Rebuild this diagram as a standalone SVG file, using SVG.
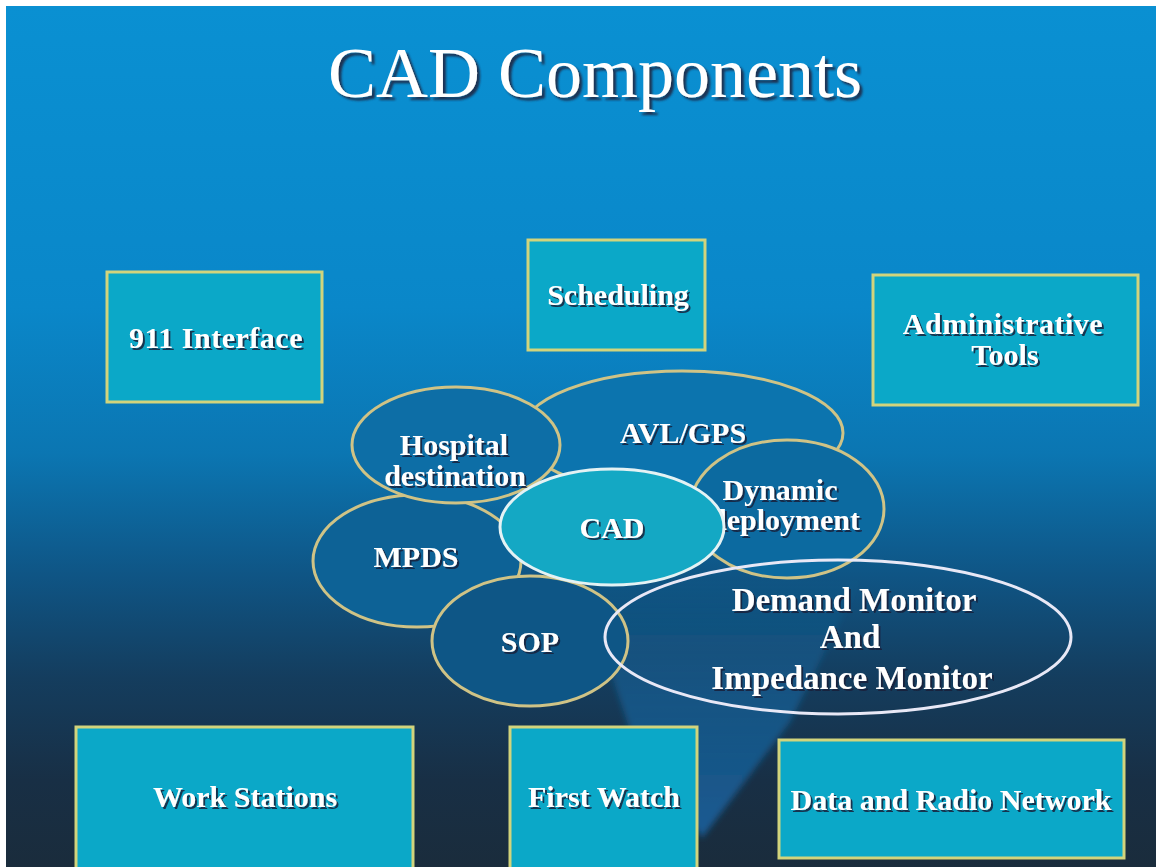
<svg xmlns="http://www.w3.org/2000/svg" width="1156" height="867" viewBox="0 0 1156 867">
  <defs>
    <linearGradient id="bg" x1="0" y1="0" x2="0" y2="1">
      <stop offset="0" stop-color="#0a90d2"/>
      <stop offset="0.35" stop-color="#0a87c9"/>
      <stop offset="0.52" stop-color="#0b76b2"/>
      <stop offset="0.66" stop-color="#0f5585"/>
      <stop offset="0.78" stop-color="#143d5e"/>
      <stop offset="0.9" stop-color="#182f45"/>
      <stop offset="1" stop-color="#1a2c3c"/>
    </linearGradient>
    <linearGradient id="beam" x1="0" y1="0" x2="0" y2="1">
      <stop offset="0" stop-color="#1a80c0" stop-opacity="0"/>
      <stop offset="0.45" stop-color="#1a74b6" stop-opacity="0.45"/>
      <stop offset="1" stop-color="#1766a8" stop-opacity="0.8"/>
    </linearGradient>
    <filter id="shadow" x="-10%" y="-20%" width="120%" height="140%">
      <feDropShadow dx="2" dy="2" stdDeviation="0.6" flood-color="#17233a" flood-opacity="0.85"/>
    </filter>
    <filter id="titleShadow" x="-5%" y="-20%" width="110%" height="140%">
      <feDropShadow dx="3" dy="3" stdDeviation="0.8" flood-color="#1a2a44" flood-opacity="0.9"/>
    </filter>
    <filter id="soft" x="-10%" y="-10%" width="120%" height="120%">
      <feGaussianBlur stdDeviation="3"/>
    </filter>
    <style>
      .box { fill: #0ba8c8; stroke: #d2d47c; stroke-width: 3; }
      .oval { stroke: #cfc386; stroke-width: 3; }
      .lbl { font-family: "Liberation Serif", "Times New Roman", serif; font-weight: bold; fill: #ffffff; text-anchor: middle; filter: url(#shadow); }
      .b { font-size: 30px; }
      .e { font-size: 30px; }
      .big { font-size: 33px; }
      .title { font-family: "Liberation Serif", "Times New Roman", serif; font-size: 72px; fill: #ffffff; text-anchor: middle; filter: url(#titleShadow); }
    </style>
  </defs>

  <!-- slide background -->
  <rect x="0" y="0" width="1156" height="867" fill="#ffffff"/>
  <rect x="6" y="6" width="1150" height="861" fill="url(#bg)"/>

  <!-- light beam falling behind the lower ovals -->
  <polygon points="580,580 860,580 790,722 702,838 630,730" fill="url(#beam)" filter="url(#soft)"/>

  <!-- title -->
  <text class="title" x="595" y="97">CAD Components</text>

  <!-- top row boxes -->
  <g id="node-911">
    <rect class="box" x="107" y="272" width="215" height="130"/>
    <text class="lbl b" x="216" y="348" letter-spacing="0.5">911 Interface</text>
  </g>
  <g id="node-scheduling">
    <rect class="box" x="528" y="240" width="177" height="110"/>
    <text class="lbl b" x="618" y="305">Scheduling</text>
  </g>
  <g id="node-admin">
    <rect class="box" x="873" y="275" width="265" height="130"/>
    <text class="lbl b" x="1003" y="334" letter-spacing="0.5">Administrative</text>
    <text class="lbl b" x="1005" y="365">Tools</text>
  </g>

  <!-- overlapping ovals around CAD -->
  <g id="node-avl">
    <ellipse class="oval" cx="682" cy="433" rx="161" ry="62" fill="#0c74ae"/>
    <text class="lbl e" x="683" y="443">AVL/GPS</text>
  </g>
  <g id="node-mpds">
    <ellipse class="oval" cx="417" cy="561" rx="104" ry="66" fill="#0d6296"/>
    <text class="lbl e" x="416" y="567">MPDS</text>
  </g>
  <g id="node-hospital">
    <ellipse class="oval" cx="456" cy="445" rx="104" ry="58" fill="#0d6ea6"/>
    <text class="lbl e" x="454" y="455">Hospital</text>
    <text class="lbl e" x="455" y="486">destination</text>
  </g>
  <g id="node-dynamic">
    <ellipse class="oval" cx="787" cy="509" rx="97" ry="69" fill="#0c6aa0"/>
    <text class="lbl e" x="780" y="500">Dynamic</text>
    <text class="lbl e" x="785" y="530">deployment</text>
  </g>
  <g id="node-sop">
    <ellipse class="oval" cx="530" cy="641" rx="98" ry="65" fill="#0e5686"/>
    <text class="lbl e" x="530" y="652">SOP</text>
  </g>
  <g id="node-cad">
    <ellipse cx="612" cy="527" rx="112" ry="58" fill="#14a8c4" stroke="#e4f2f4" stroke-width="3"/>
    <text class="lbl e" x="612" y="538">CAD</text>
  </g>
  <g id="node-demand">
    <ellipse cx="838" cy="637" rx="233" ry="77" fill="none" stroke="#e8e8f6" stroke-width="3"/>
    <text class="lbl big" x="854" y="611">Demand Monitor</text>
    <text class="lbl big" x="850" y="648">And</text>
    <text class="lbl big" x="852" y="689">Impedance Monitor</text>
  </g>

  <!-- bottom row boxes -->
  <g id="node-workstations">
    <rect class="box" x="76" y="727" width="337" height="142"/>
    <text class="lbl b" x="245" y="807">Work Stations</text>
  </g>
  <g id="node-firstwatch">
    <rect class="box" x="510" y="727" width="187" height="142"/>
    <text class="lbl b" x="604" y="807">First Watch</text>
  </g>
  <g id="node-network">
    <rect class="box" x="779" y="740" width="345" height="118"/>
    <text class="lbl b" x="951" y="810">Data and Radio Network</text>
  </g>

  <!-- no connectors: components are grouped by overlap -->
  <g id="connectors"/>
</svg>
